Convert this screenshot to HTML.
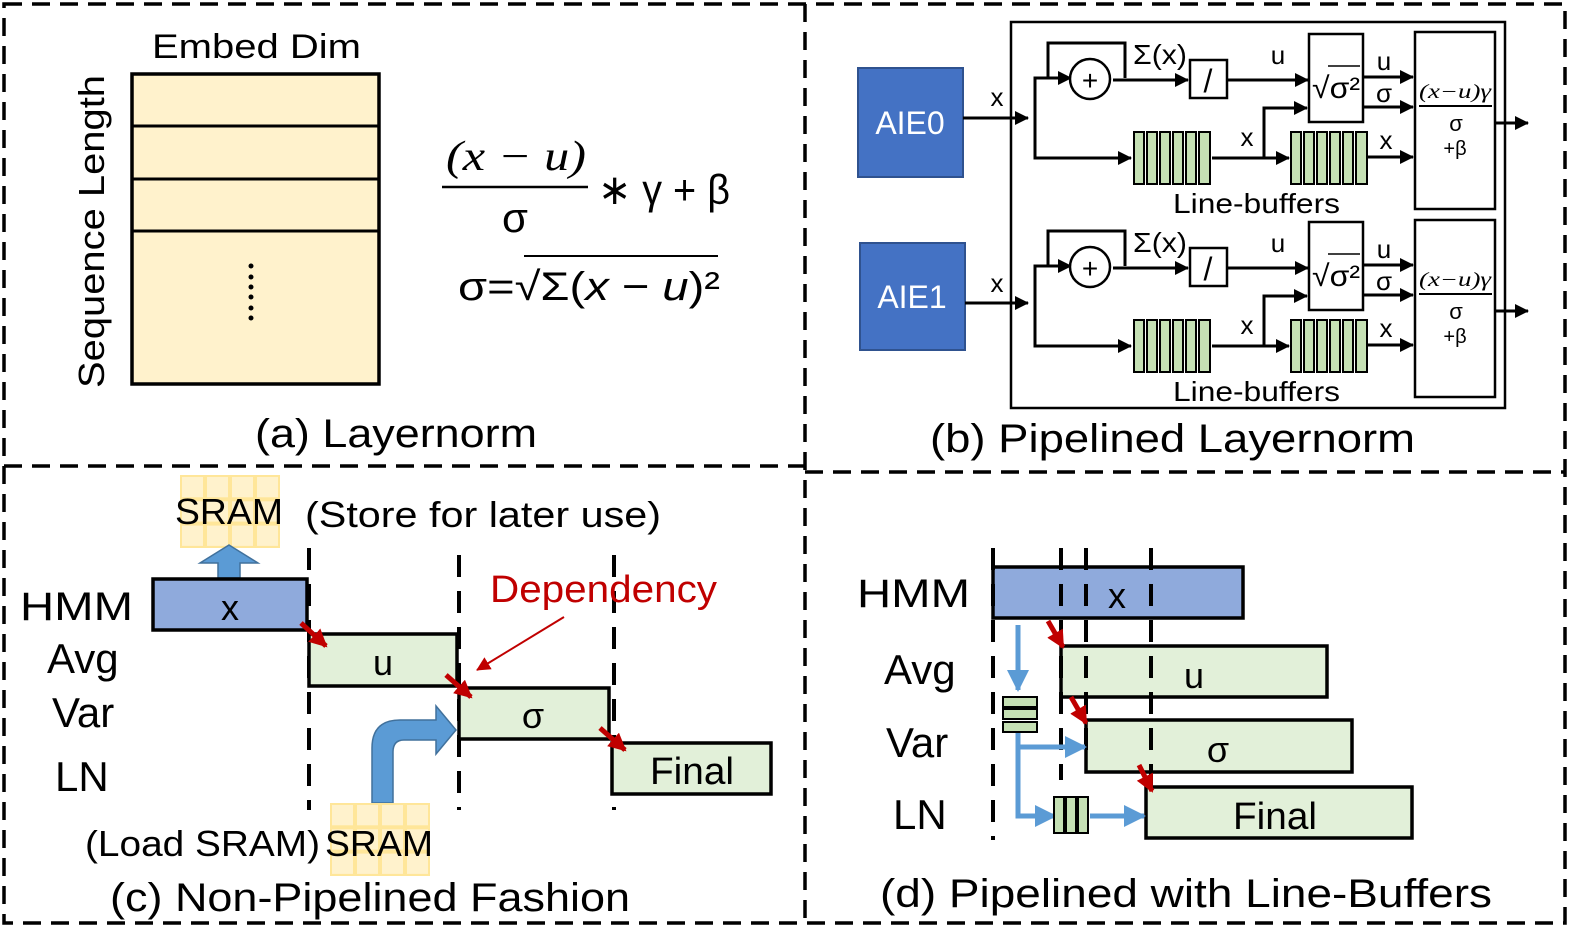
<!DOCTYPE html>
<html><head><meta charset="utf-8"><style>
html,body{margin:0;padding:0;background:#fff;}
svg{display:block;}
text{font-family:"Liberation Sans","DejaVu Sans",sans-serif;fill:#000;}
.m{font-family:"Liberation Serif","DejaVu Serif",serif;font-style:italic;}
</style></head><body>
<svg width="1578" height="935" viewBox="0 0 1578 935" xmlns="http://www.w3.org/2000/svg">
<defs>
<marker id="ab" markerWidth="14" markerHeight="14" refX="13" refY="7" orient="auto" markerUnits="userSpaceOnUse"><path d="M0,0 L14,7 L0,14z" fill="#000"/></marker>
<marker id="ar" markerWidth="18" markerHeight="18" refX="16" refY="9" orient="auto" markerUnits="userSpaceOnUse"><path d="M0,0 L18,9 L0,18z" fill="#c00000"/></marker>
<marker id="ar2" markerWidth="14" markerHeight="14" refX="13" refY="7" orient="auto" markerUnits="userSpaceOnUse"><path d="M0,0 L14,7 L0,14z" fill="#c00000"/></marker>
<marker id="al" markerWidth="22" markerHeight="22" refX="20" refY="11" orient="auto" markerUnits="userSpaceOnUse"><path d="M0,0 L22,11 L0,22z" fill="#5b9bd5"/></marker>
<pattern id="sr" x="180" y="475" width="25" height="24.3" patternUnits="userSpaceOnUse"><rect x="1" y="1" width="23" height="22.3" fill="#fff2cc" stroke="#ffe699" stroke-width="2"/></pattern>
<pattern id="sr2" x="330" y="803" width="25" height="24.3" patternUnits="userSpaceOnUse"><rect x="1" y="1" width="23" height="22.3" fill="#fff2cc" stroke="#ffe699" stroke-width="2"/></pattern>
</defs>

<!-- dashed frame -->
<g stroke="#000" stroke-width="3.5" stroke-dasharray="18,10" fill="none">
<rect x="4" y="4" width="1561" height="919"/>
<line x1="805" y1="4" x2="805" y2="923"/>
<line x1="4" y1="466" x2="805" y2="466"/>
<line x1="805" y1="472" x2="1565" y2="472"/>
</g>

<!-- (a) -->
<text x="152" y="58" font-size="34" textLength="209" lengthAdjust="spacingAndGlyphs">Embed Dim</text>
<rect x="132" y="74" width="247" height="310" fill="#fff2cc" stroke="#000" stroke-width="3.5"/>
<g stroke="#000" stroke-width="3"><line x1="132" y1="126" x2="379" y2="126"/><line x1="132" y1="179" x2="379" y2="179"/><line x1="132" y1="231" x2="379" y2="231"/></g>
<g fill="#000"><circle cx="251" cy="266" r="2.5"/><circle cx="251" cy="277" r="2.5"/><circle cx="251" cy="287" r="2.5"/><circle cx="251" cy="297" r="2.5"/><circle cx="251" cy="308" r="2.5"/><circle cx="251" cy="318" r="2.5"/></g>
<text transform="translate(104,388) rotate(-90)" font-size="36" textLength="313" lengthAdjust="spacingAndGlyphs">Sequence Length</text>
<text x="446" y="170" font-size="42" class="m" textLength="140" lengthAdjust="spacingAndGlyphs">(x − u)</text>
<line x1="442" y1="187" x2="588" y2="187" stroke="#000" stroke-width="2.5"/>
<text x="515" y="232" font-size="42" text-anchor="middle" font-family="Liberation Serif,serif">σ</text>
<text x="598" y="204" font-size="42" font-family="Liberation Serif,serif" textLength="132" lengthAdjust="spacingAndGlyphs">∗ γ + β</text>
<text x="458" y="300" font-size="40" font-family="Liberation Serif,serif" textLength="262" lengthAdjust="spacingAndGlyphs">σ=√Σ(<tspan font-style="italic">x</tspan> − <tspan font-style="italic">u</tspan>)²</text>
<line x1="524" y1="256" x2="718" y2="256" stroke="#000" stroke-width="2"/>
<text x="255" y="447" font-size="40" textLength="282" lengthAdjust="spacingAndGlyphs">(a) Layernorm</text>

<!-- (b) -->
<rect x="858" y="68" width="105" height="109" fill="#4472c4" stroke="#2f528f" stroke-width="2"/>
<text x="910" y="134" font-size="32" style="fill:#fff" text-anchor="middle">AIE0</text>
<rect x="860" y="243" width="105" height="107" fill="#4472c4" stroke="#2f528f" stroke-width="2"/>
<text x="912" y="308" font-size="32" style="fill:#fff" text-anchor="middle">AIE1</text>
<rect x="1011" y="22" width="494" height="386" fill="none" stroke="#000" stroke-width="2.5"/>
<line x1="963" y1="118" x2="1028" y2="118" stroke="#000" stroke-width="3" marker-end="url(#ab)"/>
<text x="997" y="106" font-size="26" text-anchor="middle">x</text>
<line x1="965" y1="303" x2="1028" y2="303" stroke="#000" stroke-width="3" marker-end="url(#ab)"/>
<text x="997" y="292" font-size="26" text-anchor="middle">x</text>

<g id="blk">
<g stroke="#000" stroke-width="3" fill="none">
<polyline points="1035,118 1035,78 1071,78" marker-end="url(#ab)"/>
<polyline points="1048,78 1048,43 1125,43 1125,78"/>
<line x1="1113" y1="80" x2="1188" y2="80" marker-end="url(#ab)"/>
<line x1="1227" y1="80" x2="1308" y2="80" marker-end="url(#ab)"/>
<line x1="1362" y1="77" x2="1413" y2="77" marker-end="url(#ab)"/>
<line x1="1362" y1="107" x2="1413" y2="107" marker-end="url(#ab)"/>
<polyline points="1035,118 1035,158 1131,158" marker-end="url(#ab)"/>
<line x1="1212" y1="158" x2="1289" y2="158" marker-end="url(#ab)"/>
<polyline points="1264,158 1264,108 1307,108" marker-end="url(#ab)"/>
<line x1="1368" y1="157" x2="1413" y2="157" marker-end="url(#ab)"/>
<line x1="1490" y1="123" x2="1528" y2="123" marker-end="url(#ab)"/>
</g>
<circle cx="1090" cy="79" r="20" fill="#fff" stroke="#000" stroke-width="2.5"/>
<text x="1090" y="90" font-size="28" text-anchor="middle">+</text>
<text x="1133" y="64" font-size="28" textLength="54" lengthAdjust="spacingAndGlyphs">Σ(x)</text>
<rect x="1190" y="60" width="37" height="38" fill="#fff" stroke="#000" stroke-width="2.5"/>
<text x="1208" y="92" font-size="32" text-anchor="middle">/</text>
<text x="1278" y="64" font-size="26" text-anchor="middle">u</text>
<rect x="1309" y="34" width="54" height="88" fill="#fff" stroke="#000" stroke-width="2.5"/>
<text x="1312" y="98" font-size="30" textLength="48" lengthAdjust="spacingAndGlyphs">√σ²</text>
<line x1="1328" y1="66" x2="1360" y2="66" stroke="#000" stroke-width="1.5"/>
<text x="1384" y="70" font-size="26" text-anchor="middle">u</text>
<text x="1384" y="102" font-size="26" text-anchor="middle">σ</text>
<rect x="1415" y="32" width="80" height="177" fill="#fff" stroke="#000" stroke-width="2.5"/>
<text x="1455" y="98" font-size="20" class="m" text-anchor="middle" textLength="72" lengthAdjust="spacingAndGlyphs">(x−u)γ</text>
<line x1="1419" y1="106" x2="1492" y2="106" stroke="#000" stroke-width="2"/>
<text x="1456" y="131" font-size="22" text-anchor="middle">σ</text>
<text x="1455" y="155" font-size="20" text-anchor="middle">+β</text>
<g fill="#c5e0b4" stroke="#000" stroke-width="2">
<rect x="1134" y="132" width="10" height="52"/><rect x="1147" y="132" width="10" height="52"/><rect x="1160" y="132" width="10" height="52"/><rect x="1173" y="132" width="10" height="52"/><rect x="1186" y="132" width="10" height="52"/><rect x="1199" y="132" width="11" height="52"/>
<rect x="1291" y="132" width="10" height="52"/><rect x="1304" y="132" width="10" height="52"/><rect x="1317" y="132" width="10" height="52"/><rect x="1330" y="132" width="10" height="52"/><rect x="1343" y="132" width="10" height="52"/><rect x="1356" y="132" width="11" height="52"/>
</g>
<text x="1247" y="146" font-size="26" text-anchor="middle">x</text>
<text x="1386" y="149" font-size="26" text-anchor="middle">x</text>
<text x="1173" y="213" font-size="28" textLength="167" lengthAdjust="spacingAndGlyphs">Line-buffers</text>
</g>
<use href="#blk" transform="translate(0,188)"/>
<text x="930" y="452" font-size="40" textLength="485" lengthAdjust="spacingAndGlyphs">(b) Pipelined Layernorm</text>

<!-- (c) -->
<rect x="180" y="475" width="100" height="73" fill="url(#sr)"/>
<text x="175" y="524" font-size="36" textLength="108" lengthAdjust="spacingAndGlyphs">SRAM</text>
<path d="M218,578 L218,563 L200,563 L229,545 L258,563 L240,563 L240,578z" fill="#5b9bd5" stroke="#41719c" stroke-width="1.5"/>
<text x="305" y="527" font-size="36" textLength="356" lengthAdjust="spacingAndGlyphs">(Store for later use)</text>
<g stroke="#000" stroke-width="4" stroke-dasharray="22,14" fill="none">
<line x1="309" y1="548" x2="309" y2="810"/>
<line x1="459" y1="555" x2="459" y2="810"/>
<line x1="614" y1="555" x2="614" y2="810"/>
</g>
<text x="20" y="620" font-size="40" textLength="113" lengthAdjust="spacingAndGlyphs">HMM</text>
<text x="47" y="673" font-size="42">Avg</text>
<text x="52" y="727" font-size="42">Var</text>
<text x="55" y="791" font-size="42">LN</text>
<rect x="153" y="579" width="154" height="51" fill="#8faadc" stroke="#000" stroke-width="3.5"/>
<text x="230" y="620" font-size="36" text-anchor="middle">x</text>
<rect x="309" y="634" width="148" height="52" fill="#e2f0d9" stroke="#000" stroke-width="3.5"/>
<text x="383" y="675" font-size="36" text-anchor="middle">u</text>
<rect x="459" y="688" width="150" height="51" fill="#e2f0d9" stroke="#000" stroke-width="3.5"/>
<text x="533" y="728" font-size="36" text-anchor="middle">σ</text>
<rect x="612" y="743" width="159" height="51" fill="#e2f0d9" stroke="#000" stroke-width="3.5"/>
<text x="650" y="784" font-size="38" textLength="84" lengthAdjust="spacingAndGlyphs">Final</text>
<text x="490" y="602" font-size="38" style="fill:#c00000" textLength="227" lengthAdjust="spacingAndGlyphs">Dependency</text>
<line x1="564" y1="617" x2="477" y2="670" stroke="#c00000" stroke-width="2" marker-end="url(#ar2)"/>
<g stroke="#c00000" stroke-width="5">
<line x1="301" y1="623" x2="326" y2="646" marker-end="url(#ar)"/>
<line x1="446" y1="675" x2="471" y2="697" marker-end="url(#ar)"/>
<line x1="600" y1="728" x2="625" y2="750" marker-end="url(#ar)"/>
</g>
<path d="M372,803 L372,748 Q372,720 400,720 L436,720 L436,706 L456,730 L436,754 L436,740 L404,740 Q393,740 393,752 L393,803z" fill="#5b9bd5" stroke="#41719c" stroke-width="1.5"/>
<rect x="330" y="803" width="100" height="73" fill="url(#sr2)"/>
<text x="85" y="856" font-size="36" textLength="235" lengthAdjust="spacingAndGlyphs">(Load SRAM)</text>
<text x="325" y="856" font-size="36" textLength="108" lengthAdjust="spacingAndGlyphs">SRAM</text>
<text x="110" y="911" font-size="40" textLength="520" lengthAdjust="spacingAndGlyphs">(c) Non-Pipelined Fashion</text>

<!-- (d) -->
<text x="857" y="607" font-size="40" textLength="113" lengthAdjust="spacingAndGlyphs">HMM</text>
<text x="884" y="684" font-size="42">Avg</text>
<text x="886" y="757" font-size="42">Var</text>
<text x="893" y="829" font-size="42">LN</text>
<rect x="993" y="567" width="250" height="51" fill="#8faadc" stroke="#000" stroke-width="3.5"/>
<text x="1117" y="608" font-size="36" text-anchor="middle">x</text>
<rect x="1061" y="646" width="266" height="51" fill="#e2f0d9" stroke="#000" stroke-width="3.5"/>
<text x="1194" y="688" font-size="36" text-anchor="middle">u</text>
<rect x="1086" y="720" width="266" height="52" fill="#e2f0d9" stroke="#000" stroke-width="3.5"/>
<text x="1218" y="762" font-size="36" text-anchor="middle">σ</text>
<rect x="1146" y="787" width="266" height="51" fill="#e2f0d9" stroke="#000" stroke-width="3.5"/>
<text x="1233" y="829" font-size="38" textLength="84" lengthAdjust="spacingAndGlyphs">Final</text>
<g stroke="#000" stroke-width="4" stroke-dasharray="22,14" fill="none">
<line x1="993" y1="548" x2="993" y2="840"/>
<line x1="1061" y1="548" x2="1061" y2="780"/>
<line x1="1086" y1="548" x2="1086" y2="760"/>
<line x1="1151" y1="548" x2="1151" y2="800"/>
</g>
<g stroke="#c00000" stroke-width="5">
<line x1="1048" y1="621" x2="1063" y2="647" marker-end="url(#ar)"/>
<line x1="1071" y1="697" x2="1086" y2="723" marker-end="url(#ar)"/>
<line x1="1139" y1="765" x2="1152" y2="791" marker-end="url(#ar)"/>
</g>
<g stroke="#5b9bd5" stroke-width="5" fill="none">
<line x1="1018" y1="625" x2="1018" y2="690" marker-end="url(#al)"/>
<polyline points="1018,732 1018,816 1055,816" marker-end="url(#al)"/>
<line x1="1018" y1="747" x2="1085" y2="747" marker-end="url(#al)"/>
<line x1="1090" y1="816" x2="1144" y2="816" marker-end="url(#al)"/>
</g>
<g fill="#c5e0b4" stroke="#000" stroke-width="2">
<rect x="1003" y="697" width="34" height="10"/><rect x="1003" y="709" width="34" height="10"/><rect x="1003" y="722" width="34" height="10"/>
<rect x="1054" y="797" width="10" height="36"/><rect x="1066" y="797" width="10" height="36"/><rect x="1078" y="797" width="10" height="36"/>
</g>
<text x="880" y="907" font-size="40" textLength="612" lengthAdjust="spacingAndGlyphs">(d) Pipelined with Line-Buffers</text>
</svg>
</body></html>
